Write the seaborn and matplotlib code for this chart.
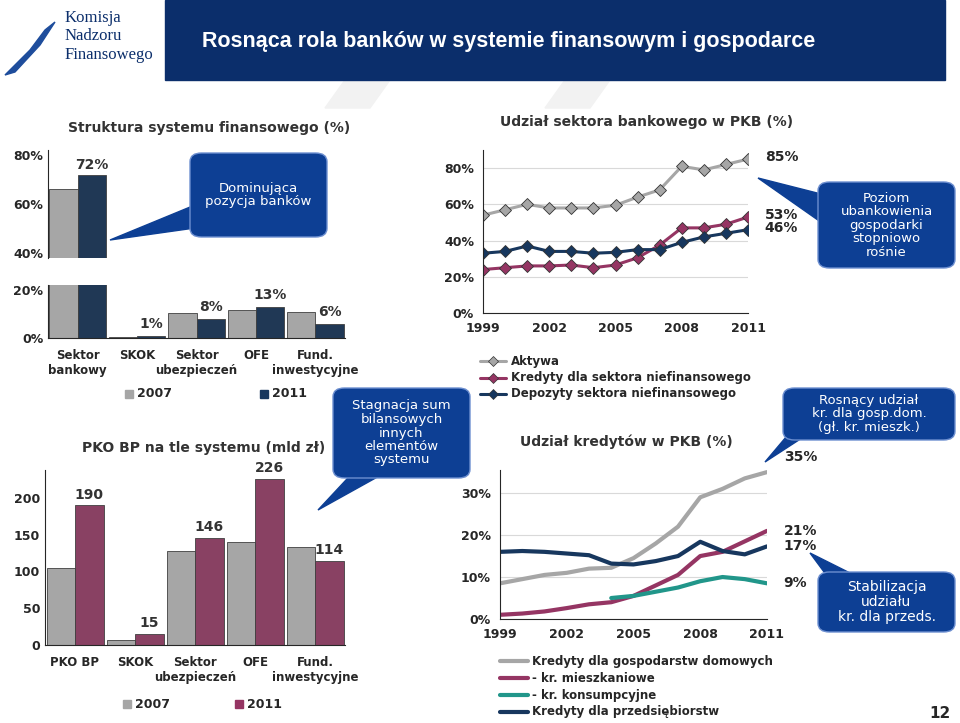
import numpy as np
import pandas as pd
import matplotlib
matplotlib.use("Agg")
import matplotlib.pyplot as plt
import seaborn as sns
from matplotlib.patches import FancyBboxPatch, Polygon, Rectangle

# %% data
years = list(range(1999, 2012))
aktywa = [54, 57, 60, 58, 58, 58, 59.5, 64, 68, 81, 79, 82, 85]
kredyty_nf = [24, 25, 26, 26, 26.5, 25, 26.5, 30.5, 37.5, 47, 47, 49, 53]
depozyty_nf = [33, 34, 37, 34, 34, 33, 33.5, 35, 35, 39, 42, 44, 46]

kr_gd = [8.5, 9.5, 10.5, 11, 12, 12.2, 14.5, 18, 22, 29, 31, 33.5, 35]
kr_mieszk = [1, 1.3, 1.8, 2.6, 3.5, 4, 5.5, 8, 10.5, 15, 16, 18.5, 21]
kr_kons = [None] * 5 + [5, 5.5, 6.5, 7.5, 9, 10, 9.5, 8.5]
kr_przeds = [16, 16.2, 16, 15.6, 15.2, 13.2, 13, 13.8, 15, 18.4, 16.2, 15.4, 17.3]

struct_cats = ["Sektor\nbankowy", "SKOK", "Sektor\nubezpieczeń", "OFE", "Fund.\ninwestycyjne"]
struct_2007 = [66, 0.5, 10.5, 11.5, 11]
struct_2011 = [72, 1, 8, 13, 6]
struct_labels = ["72%", "1%", "8%", "13%", "6%"]

pko_cats = ["PKO BP", "SKOK", "Sektor\nubezpieczeń", "OFE", "Fund.\ninwestycyjne"]
pko_2007 = [105, 7, 128, 140, 133]
pko_2011 = [190, 15, 146, 226, 114]

GREY, NAVY, MAROON, TEAL = "#a6a6a6", "#17375e", "#953563", "#21968a"
BANNER = "#0b2e6b"
BOX = "#0d3f94"

W, H = 960, 723
fig = plt.figure(figsize=(9.6, 7.23), dpi=100)

def ax_px(x0, y0, x1, y1):
    return fig.add_axes([x0 / W, 1 - y1 / H, (x1 - x0) / W, (y1 - y0) / H])

def fx(x, y):
    return (x / W, 1 - y / H)

def txt(x, y, s, **kw):
    fig.text(x / W, 1 - y / H, s, **kw)

# background stripes
for x0 in [345, 565]:
    fig.patches.append(Polygon([fx(x0, 80), fx(x0 + 45, 80), fx(x0 + 25, 108), fx(x0 - 20, 108)],
                               closed=True, transform=fig.transFigure, color="#f2f2f2", zorder=0))

# header
fig.patches.append(Rectangle(fx(165, 80), (945 - 165) / W, 80 / H, transform=fig.transFigure,
                             color=BANNER, zorder=1))
txt(202, 42, "Rosnąca rola banków w systemie finansowym i gospodarce", color="white",
    fontsize=15.5, fontweight="bold", va="center", family="Liberation Sans")
txt(65, 10, "Komisja\nNadzoru\nFinansowego", color="#0b2e6b", fontsize=12, va="top",
    family="Liberation Serif", linespacing=1.2)
fig.patches.append(Polygon([fx(5, 75), fx(30, 50), fx(45, 30), fx(55, 22), fx(40, 45), fx(15, 72)],
                           closed=True, transform=fig.transFigure, color="#1e4d9c", zorder=2))

sns.set_style("white")
bar_kw = dict(edgecolor="#404040", linewidth=0.6)

# %% structure chart (broken axis)
df_s = pd.DataFrame({"cat": struct_cats * 2, "val": struct_2007 + struct_2011,
                     "rok": ["2007"] * 5 + ["2011"] * 5})
ax_hi = ax_px(48, 150, 345, 258)
ax_lo = ax_px(48, 285, 345, 338)
for ax in (ax_hi, ax_lo):
    sns.barplot(data=df_s, x="cat", y="val", hue="rok", palette=[GREY, NAVY], ax=ax,
                width=0.95, legend=False, **bar_kw)
    ax.set_xlabel("")
    ax.set_ylabel("")
    ax.spines[["top", "right"]].set_visible(False)
    ax.tick_params(axis="y", labelsize=9, length=0)
ax_hi.set_ylim(38, 82)
ax_hi.set_yticks([40, 60, 80])
ax_hi.set_yticklabels(["40%", "60%", "80%"], fontweight="bold")
ax_hi.set_xticks([])
ax_hi.spines["bottom"].set_visible(False)
ax_lo.set_ylim(0, 22)
ax_lo.set_yticks([0, 20])
ax_lo.set_yticklabels(["0%", "20%"], fontweight="bold")
ax_lo.set_xticks(range(5))
ax_lo.set_xticklabels(struct_cats, fontsize=8.5, fontweight="bold")
ax_lo.tick_params(axis="x", length=0, pad=8)
for i, (v, lab) in enumerate(zip(struct_2011, struct_labels)):
    target = ax_hi if v > 38 else ax_lo
    target.text(i + 0.24, v + (1 if v > 38 else 2), lab, ha="center", va="bottom",
                fontsize=10, fontweight="bold", color="#333333")
txt(68, 128, "Struktura systemu finansowego (%)", fontsize=10, fontweight="bold", va="center",
    color="#333333")
for i, (lab, c) in enumerate([("2007", GREY), ("2011", NAVY)]):
    x = 125 + i * 135
    fig.patches.append(Rectangle(fx(x, 398), 8 / W, 8 / H, transform=fig.transFigure, color=c))
    txt(x + 12, 394, lab, fontsize=9, fontweight="bold", va="center")

# %% PKB share of banking sector
ax1 = ax_px(483, 150, 748, 313)
df1 = pd.DataFrame({"rok": years * 3, "val": aktywa + kredyty_nf + depozyty_nf,
                    "s": ["Aktywa"] * 13 + ["Kredyty dla sektora niefinansowego"] * 13
                    + ["Depozyty sektora niefinansowego"] * 13})
sns.lineplot(data=df1, x="rok", y="val", hue="s", palette=[GREY, MAROON, NAVY], marker="D",
             markersize=6.5, markeredgecolor="#333333", markeredgewidth=0.6, linewidth=2.2,
             ax=ax1, legend=False)
ax1.set_xlim(1999, 2011)
ax1.set_ylim(0, 90)
ax1.set_yticks([0, 20, 40, 60, 80])
ax1.set_yticklabels(["0%", "20%", "40%", "60%", "80%"], fontweight="bold", fontsize=9)
ax1.set_xticks([1999, 2002, 2005, 2008, 2011])
ax1.set_xticks(years, minor=True)
ax1.set_xticklabels(["1999", "2002", "2005", "2008", "2011"], fontweight="bold", fontsize=9)
ax1.set_xlabel("")
ax1.set_ylabel("")
ax1.grid(axis="y", color="#d9d9d9")
ax1.spines[["top", "right"]].set_visible(False)
ax1.tick_params(length=3)
ax1.tick_params(which="minor", length=3)
for v, lab in zip([85, 53, 46], ["85%", "53%", "46%"]):
    ax1.annotate(lab, (2011, v + 1), xytext=(12, 0), textcoords="offset points", va="center",
                 fontsize=10, fontweight="bold", annotation_clip=False)
txt(500, 122, "Udział sektora bankowego w PKB (%)", fontsize=10, fontweight="bold",
    va="center", color="#333333")
for i, (lab, c) in enumerate([("Aktywa", GREY), ("Kredyty dla sektora niefinansowego", MAROON),
                              ("Depozyty sektora niefinansowego", NAVY)]):
    y = 361 + i * 16.5
    fig.lines.append(plt.Line2D([480 / W, 506 / W], [1 - y / H] * 2, color=c, lw=2.2,
                                transform=fig.transFigure))
    fig.lines.append(plt.Line2D([493 / W], [1 - y / H], color=c, marker="D", markersize=5.5,
                                markeredgecolor="#333333", markeredgewidth=0.5,
                                transform=fig.transFigure))
    txt(511, y, lab, fontsize=8.5, fontweight="bold", va="center")

# %% PKO BP chart
df_p = pd.DataFrame({"cat": pko_cats * 2, "val": pko_2007 + pko_2011,
                     "rok": ["2007"] * 5 + ["2011"] * 5})
ax2 = ax_px(45, 470, 345, 645)
sns.barplot(data=df_p, x="cat", y="val", hue="rok", palette=[GREY, MAROON], ax=ax2,
            width=0.95, legend=False, **bar_kw)
ax2.set_ylim(0, 238)
ax2.set_yticks([0, 50, 100, 150, 200])
ax2.set_yticklabels(["0", "50", "100", "150", "200"], fontweight="bold", fontsize=9)
ax2.set_xticks(range(5))
ax2.set_xticklabels(pko_cats, fontsize=8.5, fontweight="bold")
ax2.tick_params(axis="x", length=0, pad=8)
ax2.tick_params(axis="y", length=0)
ax2.set_xlabel("")
ax2.set_ylabel("")
ax2.spines[["top", "right"]].set_visible(False)
for i, v in enumerate(pko_2011):
    ax2.text(i + 0.24, v + 5, str(v), ha="center", va="bottom", fontsize=10,
             fontweight="bold", color="#333333")
txt(82, 448, "PKO BP na tle systemu (mld zł)", fontsize=10, fontweight="bold", va="center",
    color="#333333")
for i, (lab, c) in enumerate([("2007", GREY), ("2011", MAROON)]):
    x = 123 + i * 112
    fig.patches.append(Rectangle(fx(x, 708), 8 / W, 8 / H, transform=fig.transFigure, color=c))
    txt(x + 12, 704, lab, fontsize=9, fontweight="bold", va="center")

# %% credits share in PKB
ax3 = ax_px(500, 470, 767, 619)
df3 = pd.DataFrame({"rok": years * 4, "val": kr_gd + kr_mieszk + kr_kons + kr_przeds,
                    "s": ["gd"] * 13 + ["m"] * 13 + ["k"] * 13 + ["p"] * 13}).dropna()
sns.lineplot(data=df3, x="rok", y="val", hue="s", palette=[GREY, MAROON, TEAL, NAVY],
             linewidth=3, ax=ax3, legend=False)
ax3.set_xlim(1999, 2011)
ax3.set_ylim(0, 35.5)
ax3.set_yticks([0, 10, 20, 30])
ax3.set_yticklabels(["0%", "10%", "20%", "30%"], fontweight="bold", fontsize=9)
ax3.set_xticks([1999, 2002, 2005, 2008, 2011])
ax3.set_xticks(years, minor=True)
ax3.set_xticklabels(["1999", "2002", "2005", "2008", "2011"], fontweight="bold", fontsize=9)
ax3.set_xlabel("")
ax3.set_ylabel("")
ax3.grid(axis="y", color="#d9d9d9")
ax3.spines[["top", "right"]].set_visible(False)
ax3.tick_params(length=3)
ax3.tick_params(which="minor", length=3)
for v, lab in zip([35, 21, 17.3, 8.5], ["35%", "21%", "17%", "9%"]):
    ax3.annotate(lab, (2011, v + (3.5 if lab == "35%" else 0)), xytext=(12, 0),
                 textcoords="offset points", va="center", fontsize=10, fontweight="bold",
                 annotation_clip=False)
txt(520, 442, "Udział kredytów w PKB (%)", fontsize=10, fontweight="bold", va="center",
    color="#333333")
for i, (lab, c) in enumerate([("Kredyty dla gospodarstw domowych", GREY),
                              ("- kr. mieszkaniowe", MAROON), ("- kr. konsumpcyjne", TEAL),
                              ("Kredyty dla przedsiębiorstw", NAVY)]):
    y = 661 + i * 17
    fig.lines.append(plt.Line2D([500 / W, 528 / W], [1 - y / H] * 2, color=c, lw=3,
                                transform=fig.transFigure))
    txt(532, y, lab, fontsize=8.5, fontweight="bold", va="center")

# %% callouts
def callout(x0, y0, x1, y1, tip, base, s, fs=9.5):
    fig.patches.append(Polygon([fx(*base[0]), fx(*base[1]), fx(*tip)], closed=True,
                               transform=fig.transFigure, color=BOX, zorder=5))
    fig.patches.append(FancyBboxPatch(fx(x0, y1), (x1 - x0) / W, (y1 - y0) / H,
                                      boxstyle="round,pad=0,rounding_size=0.012",
                                      transform=fig.transFigure, facecolor=BOX,
                                      edgecolor="#6d8fd0", lw=1, zorder=6))
    txt((x0 + x1) / 2, (y0 + y1) / 2, s, color="white", ha="center", va="center",
        fontsize=fs, zorder=7, linespacing=1.05)

callout(190, 153, 327, 237, (110, 240), ((195, 205), (195, 228)), "Dominująca\npozycja banków")
callout(818, 182, 955, 268, (758, 178), ((825, 195), (825, 225)),
        "Poziom\nubankowienia\ngospodarki\nstopniowo\nrośnie")
callout(333, 388, 470, 478, (318, 510), ((360, 465), (390, 470)),
        "Stagnacja sum\nbilansowych\ninnych\nelementów\nsystemu")
callout(783, 388, 955, 440, (765, 462), ((792, 430), (805, 436)),
        "Rosnący udział\nkr. dla gosp.dom.\n(gł. kr. mieszk.)")
callout(818, 572, 955, 632, (810, 553), ((830, 580), (860, 578)),
        "Stabilizacja\nudziału\nkr. dla przeds.", fs=10)

txt(940, 713, "12", fontsize=11, fontweight="bold", ha="center", va="center")

fig.savefig("out.png", dpi=100)
